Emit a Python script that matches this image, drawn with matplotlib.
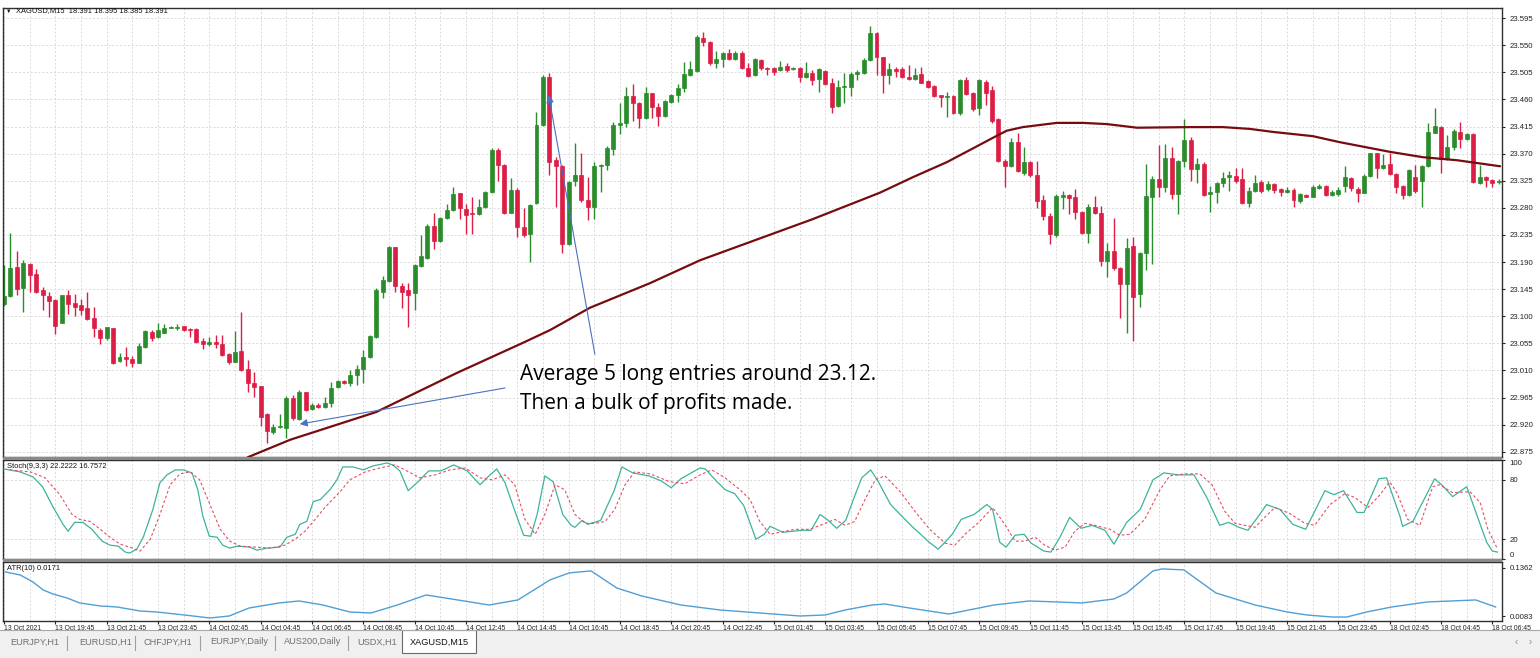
#XAGUSD M15 chart with Stochastic and ATR panels (MT4 style)
import numpy as np
import matplotlib.pyplot as plt
from matplotlib.patches import Rectangle
from matplotlib.lines import Line2D

plt.rcParams['font.family'] = ['Liberation Sans', 'DejaVu Sans']

# ---- candle data (M15 bars) ----
opens = [23.120, 23.134, 23.182, 23.147, 23.187, 23.170, 23.144, 23.134, 23.127, 23.089,
         23.135, 23.122, 23.119, 23.114, 23.097, 23.077, 23.064, 23.081, 23.026, 23.032,
         23.029, 23.022, 23.049, 23.074, 23.066, 23.072, 23.081, 23.081, 23.084, 23.079,
         23.079, 23.059, 23.054, 23.057, 23.054, 23.037, 23.024, 23.042, 23.012, 22.989,
         22.984, 22.938, 22.908, 22.916, 22.915, 22.964, 22.929, 22.974, 22.946, 22.953,
         22.949, 22.956, 22.983, 22.993, 22.989, 23.003, 23.012, 23.032, 23.066, 23.140,
         23.159, 23.215, 23.150, 23.144, 23.139, 23.184, 23.197, 23.250, 23.225, 23.263,
         23.276, 23.305, 23.278, 23.271, 23.270, 23.281, 23.306, 23.376, 23.351, 23.271,
         23.310, 23.248, 23.237, 23.288, 23.418, 23.497, 23.359, 23.349, 23.220, 23.325,
         23.335, 23.293, 23.281, 23.349, 23.351, 23.378, 23.418, 23.421, 23.466, 23.454,
         23.429, 23.471, 23.447, 23.432, 23.456, 23.467, 23.479, 23.501, 23.507, 23.562,
         23.555, 23.520, 23.527, 23.537, 23.527, 23.537, 23.512, 23.501, 23.525, 23.512,
         23.512, 23.509, 23.515, 23.510, 23.512, 23.497, 23.504, 23.494, 23.507, 23.487,
         23.449, 23.481, 23.481, 23.502, 23.504, 23.525, 23.570, 23.530, 23.501, 23.510,
         23.510, 23.497, 23.494, 23.502, 23.491, 23.482, 23.467, 23.464, 23.466, 23.437,
         23.492, 23.471, 23.446, 23.489, 23.476, 23.427, 23.358, 23.349, 23.389, 23.338,
         23.356, 23.335, 23.293, 23.266, 23.235, 23.298, 23.301, 23.298, 23.273, 23.238,
         23.281, 23.271, 23.192, 23.208, 23.180, 23.154, 23.217, 23.137, 23.205, 23.298,
         23.328, 23.315, 23.363, 23.303, 23.358, 23.393, 23.344, 23.353, 23.303, 23.306,
         23.321, 23.331, 23.333, 23.328, 23.288, 23.308, 23.323, 23.311, 23.320, 23.311,
         23.306, 23.310, 23.291, 23.301, 23.298, 23.313, 23.316, 23.301, 23.303, 23.316,
         23.330, 23.311, 23.305, 23.333, 23.371, 23.346, 23.353, 23.336, 23.316, 23.301,
         23.331, 23.325, 23.349, 23.404, 23.414, 23.361, 23.381, 23.406, 23.394, 23.403,
         23.321, 23.331, 23.326, 23.323]
closes = [23.134, 23.180, 23.145, 23.188, 23.169, 23.140, 23.135, 23.125, 23.084, 23.135,
          23.120, 23.115, 23.110, 23.095, 23.081, 23.064, 23.082, 23.022, 23.032, 23.029,
          23.022, 23.051, 23.076, 23.064, 23.077, 23.081, 23.082, 23.082, 23.077, 23.077,
          23.057, 23.054, 23.057, 23.054, 23.036, 23.024, 23.041, 23.011, 22.989, 22.983,
          22.933, 22.910, 22.916, 22.918, 22.964, 22.931, 22.974, 22.944, 22.953, 22.949,
          22.956, 22.981, 22.993, 22.989, 23.003, 23.012, 23.032, 23.067, 23.144, 23.160,
          23.215, 23.150, 23.140, 23.135, 23.185, 23.200, 23.250, 23.225, 23.263, 23.276,
          23.303, 23.280, 23.268, 23.270, 23.281, 23.306, 23.376, 23.351, 23.271, 23.310,
          23.248, 23.235, 23.285, 23.418, 23.497, 23.356, 23.349, 23.220, 23.323, 23.335,
          23.293, 23.281, 23.349, 23.351, 23.379, 23.418, 23.421, 23.466, 23.454, 23.429,
          23.471, 23.447, 23.432, 23.457, 23.467, 23.479, 23.502, 23.510, 23.564, 23.555,
          23.520, 23.527, 23.537, 23.527, 23.537, 23.512, 23.499, 23.527, 23.512, 23.510,
          23.505, 23.514, 23.509, 23.512, 23.497, 23.504, 23.492, 23.510, 23.486, 23.447,
          23.481, 23.482, 23.502, 23.505, 23.525, 23.570, 23.530, 23.501, 23.510, 23.507,
          23.497, 23.494, 23.501, 23.487, 23.481, 23.466, 23.464, 23.466, 23.437, 23.492,
          23.469, 23.444, 23.492, 23.471, 23.424, 23.358, 23.349, 23.389, 23.341, 23.356,
          23.335, 23.291, 23.266, 23.237, 23.300, 23.301, 23.296, 23.273, 23.238, 23.281,
          23.271, 23.192, 23.208, 23.180, 23.154, 23.213, 23.132, 23.205, 23.300, 23.328,
          23.315, 23.363, 23.303, 23.358, 23.393, 23.344, 23.353, 23.301, 23.306, 23.321,
          23.330, 23.335, 23.325, 23.288, 23.308, 23.321, 23.308, 23.320, 23.310, 23.306,
          23.310, 23.293, 23.303, 23.298, 23.315, 23.316, 23.301, 23.306, 23.310, 23.331,
          23.313, 23.305, 23.333, 23.371, 23.346, 23.351, 23.336, 23.315, 23.301, 23.343,
          23.308, 23.349, 23.406, 23.416, 23.361, 23.381, 23.408, 23.394, 23.403, 23.323,
          23.331, 23.326, 23.321, 23.325]
highs = [23.185, 23.238, 23.208, 23.193, 23.188, 23.178, 23.149, 23.140, 23.129, 23.135,
         23.144, 23.137, 23.129, 23.140, 23.115, 23.081, 23.082, 23.081, 23.039, 23.049,
         23.034, 23.056, 23.077, 23.077, 23.089, 23.087, 23.084, 23.087, 23.084, 23.081,
         23.081, 23.064, 23.066, 23.069, 23.069, 23.039, 23.076, 23.107, 23.027, 23.007,
         22.984, 22.939, 22.921, 22.938, 22.968, 22.969, 22.978, 22.974, 22.956, 22.956,
         22.966, 22.991, 22.994, 22.994, 23.011, 23.019, 23.044, 23.069, 23.147, 23.167,
         23.217, 23.215, 23.155, 23.155, 23.187, 23.235, 23.253, 23.271, 23.265, 23.286,
         23.315, 23.305, 23.286, 23.298, 23.295, 23.308, 23.379, 23.379, 23.353, 23.330,
         23.313, 23.280, 23.286, 23.439, 23.501, 23.504, 23.364, 23.351, 23.325, 23.388,
         23.371, 23.331, 23.356, 23.353, 23.383, 23.422, 23.454, 23.481, 23.486, 23.456,
         23.481, 23.471, 23.454, 23.459, 23.469, 23.486, 23.522, 23.524, 23.567, 23.572,
         23.557, 23.540, 23.539, 23.544, 23.540, 23.540, 23.520, 23.529, 23.527, 23.514,
         23.514, 23.524, 23.520, 23.514, 23.514, 23.522, 23.509, 23.512, 23.509, 23.496,
         23.492, 23.504, 23.505, 23.509, 23.529, 23.582, 23.572, 23.530, 23.520, 23.514,
         23.514, 23.517, 23.512, 23.514, 23.492, 23.484, 23.467, 23.472, 23.467, 23.494,
         23.497, 23.472, 23.494, 23.492, 23.482, 23.429, 23.361, 23.396, 23.404, 23.381,
         23.358, 23.358, 23.301, 23.271, 23.303, 23.308, 23.303, 23.311, 23.275, 23.286,
         23.300, 23.283, 23.222, 23.263, 23.182, 23.230, 23.232, 23.207, 23.353, 23.333,
         23.384, 23.386, 23.381, 23.359, 23.427, 23.398, 23.363, 23.356, 23.316, 23.323,
         23.340, 23.341, 23.346, 23.346, 23.315, 23.335, 23.326, 23.325, 23.321, 23.313,
         23.315, 23.313, 23.305, 23.303, 23.318, 23.320, 23.318, 23.310, 23.315, 23.349,
         23.331, 23.315, 23.336, 23.371, 23.371, 23.369, 23.371, 23.338, 23.318, 23.344,
         23.351, 23.351, 23.421, 23.446, 23.416, 23.401, 23.411, 23.422, 23.404, 23.404,
         23.351, 23.333, 23.328, 23.328]
lows = [23.117, 23.132, 23.135, 23.107, 23.140, 23.139, 23.110, 23.099, 23.071, 23.089,
        23.104, 23.100, 23.102, 23.094, 23.066, 23.054, 23.061, 23.021, 23.024, 23.017,
        23.016, 23.022, 23.047, 23.059, 23.064, 23.072, 23.081, 23.077, 23.076, 23.066,
        23.056, 23.046, 23.051, 23.047, 23.034, 23.021, 23.024, 23.009, 22.974, 22.966,
        22.918, 22.890, 22.905, 22.915, 22.898, 22.928, 22.928, 22.943, 22.944, 22.948,
        22.948, 22.949, 22.981, 22.988, 22.984, 22.986, 22.989, 23.031, 23.064, 23.130,
        23.157, 23.140, 23.114, 23.082, 23.110, 23.182, 23.195, 23.212, 23.223, 23.261,
        23.275, 23.261, 23.237, 23.237, 23.268, 23.280, 23.305, 23.325, 23.270, 23.271,
        23.232, 23.232, 23.190, 23.286, 23.416, 23.335, 23.281, 23.205, 23.218, 23.316,
        23.290, 23.260, 23.261, 23.306, 23.343, 23.368, 23.403, 23.414, 23.424, 23.413,
        23.427, 23.429, 23.416, 23.431, 23.454, 23.456, 23.472, 23.499, 23.505, 23.549,
        23.517, 23.512, 23.514, 23.525, 23.525, 23.510, 23.497, 23.499, 23.509, 23.501,
        23.501, 23.507, 23.505, 23.509, 23.489, 23.496, 23.484, 23.472, 23.484, 23.437,
        23.447, 23.454, 23.466, 23.492, 23.502, 23.524, 23.501, 23.471, 23.486, 23.497,
        23.496, 23.492, 23.492, 23.487, 23.479, 23.464, 23.447, 23.431, 23.436, 23.434,
        23.467, 23.441, 23.434, 23.451, 23.421, 23.356, 23.315, 23.348, 23.339, 23.335,
        23.331, 23.280, 23.260, 23.220, 23.232, 23.278, 23.270, 23.261, 23.237, 23.222,
        23.270, 23.183, 23.165, 23.177, 23.097, 23.072, 23.059, 23.115, 23.177, 23.187,
        23.298, 23.306, 23.295, 23.270, 23.348, 23.325, 23.321, 23.300, 23.273, 23.288,
        23.315, 23.308, 23.321, 23.286, 23.281, 23.306, 23.305, 23.308, 23.305, 23.300,
        23.305, 23.281, 23.288, 23.298, 23.298, 23.311, 23.300, 23.300, 23.300, 23.306,
        23.308, 23.290, 23.305, 23.331, 23.330, 23.344, 23.335, 23.305, 23.295, 23.300,
        23.305, 23.281, 23.348, 23.404, 23.338, 23.359, 23.376, 23.379, 23.393, 23.321,
        23.320, 23.315, 23.315, 23.320]

# moving average (bar index, price)
ma_bar = [38, 44.6, 58, 70.6, 80.9, 85.1, 91.3, 100.7, 108.5, 126, 136.5, 141.7, 147, 155,
          156.3, 158.8, 164.1, 168.2, 171.9, 176.6, 184.9, 190, 194.2, 197.8, 204, 208.2,
          216, 221.2, 226.5, 233.2]
ma_val = [22.866, 22.895, 22.941, 23.006, 23.056, 23.077, 23.114, 23.155, 23.193, 23.261,
          23.305, 23.331, 23.356, 23.401, 23.408, 23.414, 23.421, 23.421, 23.419, 23.413,
          23.414, 23.414, 23.411, 23.406, 23.399, 23.389, 23.373, 23.364, 23.359, 23.349]

# stochastic %K
k_bar = [0, 2.5, 4.5, 6, 7.6, 9.2, 10, 11, 12.3, 13.7, 15.3, 16.5, 17.8, 18.9, 19.6, 20.7,
         21.7, 23.2, 24.3, 25.4, 26.7, 27.9, 29.3, 30.2, 31, 32, 33.2, 34.1, 35.2, 36.3,
         38.3, 39.4, 41, 43, 44.1, 45.4, 46.1, 47.2, 48.2, 49.3, 50.8, 51.9, 52.8, 54.4,
         56, 57.5, 59.7, 60.6, 61.7, 63, 64.7, 66.2, 68.1, 70.1, 72.2, 74.2, 75.6, 76.8,
         78.1, 79.6, 81, 82.1, 83.1, 84.3, 85.6, 87.1, 88.4, 89, 90.1, 91, 93, 95.1, 96.3,
         98, 100.5, 102.4, 104, 105.5, 108.5, 109.3, 111, 112.4, 113.9, 115.3, 117.2,
         118.5, 119.4, 121.4, 124.4, 125.8, 127.2, 128.3, 129.8, 131.2, 132.5, 133.7,
         135.1, 136.2, 138.2, 141.2, 144.2, 145.6, 146.4, 147.8, 149.2, 151.2, 153.2,
         154.1, 155.2, 156.2, 157.6, 159, 160.1, 162.1, 163.2, 164.6, 166.1, 167.9, 169.6,
         171.6, 173, 175, 177.1, 179.1, 180.8, 183, 185.5, 187.5, 189.5, 190.9, 192.5,
         193.9, 195.4, 196.8, 198.9, 200.9, 202.9, 205.9, 207.3, 208.8, 210.9, 212, 214.3,
         215.5, 217.6, 218, 219.6, 223, 224.1, 225.8, 228, 231.1, 232, 232.8]
k_val = [91, 88, 83, 73, 53, 35, 28, 37, 37, 30, 18, 14, 13, 7, 6, 10, 22, 50, 77, 85,
         90, 90, 87, 70, 43, 23, 22, 14, 11, 13, 12, 9, 11, 12, 22, 25, 35, 38, 58, 60,
         70, 80, 93, 93, 90, 94, 97, 95, 89, 69, 79, 89, 89, 95, 89, 75, 84, 91, 77, 49,
         24, 23, 45, 84, 78, 45, 34, 32, 39, 35, 39, 69, 93, 87, 84, 79, 72, 81, 92, 91,
         79, 70, 66, 54, 20, 25, 33, 27, 29, 29, 45, 40, 31, 39, 62, 82, 90, 79, 55, 35,
         17, 10, 15, 25, 40, 45, 55, 50, 17, 12, 24, 25, 16, 8, 7, 22, 42, 31, 34, 29,
         15, 37, 50, 80, 87, 85, 85, 62, 34, 37, 32, 29, 42, 55, 50, 35, 30, 69, 65, 69,
         47, 47, 81, 82, 43, 33, 38, 81, 75, 63, 73, 17, 8, 7]

# stochastic %D (signal)
d_bar = [0.9, 4.1, 6.4, 8.7, 10.6, 11.8, 13.4, 15, 16.5, 18.1, 19.6, 21.2, 22.8, 24.3,
         25.9, 27.4, 29, 30.5, 32.1, 33.7, 35.2, 36.8, 39.1, 41.5, 43.8, 45.4, 46.9, 48.5,
         50, 52.4, 53.9, 56.3, 58.6, 60.9, 62.5, 64.8, 67.2, 69.5, 71.9, 74.2, 76.1, 78.1,
         79.6, 81.2, 82.8, 84.3, 85.9, 87.4, 89, 90.6, 92.1, 93.7, 95.2, 96.8, 98.3, 100.7,
         103.8, 106.1, 108.5, 110.3, 112.4, 114.7, 116.3, 117.8, 119.4, 120.9, 123.3, 125.6,
         128, 129.5, 131.1, 132.6, 134.2, 135.8, 137.3, 139.7, 142, 144.3, 146.7, 148.2,
         149.8, 152.1, 154.1, 156, 157.6, 159.1, 160.7, 162.2, 163.8, 165.4, 166.9, 168.5,
         170, 172.4, 173.9, 175.5, 177.8, 180.2, 181.7, 184.1, 186.4, 188.3, 190.3, 191.9,
         193.4, 195, 196.5, 198.1, 200.4, 202.8, 204.3, 206.7, 209, 210.6, 212.6, 214.5,
         216, 217.1, 218.8, 220.7, 222.7, 223.8, 225.8, 228.5, 230.1, 231.3, 232.8]
d_val = [90, 88, 82, 65, 45, 40, 38, 30, 22, 15, 12, 8, 20, 45, 75, 86, 88, 80, 55, 30,
         18, 13, 12, 11, 14, 20, 28, 40, 52, 68, 80, 88, 92, 95, 90, 82, 85, 90, 92, 82,
         80, 85, 75, 40, 25, 45, 75, 70, 45, 36, 36, 38, 50, 75, 88, 86, 78, 76, 85, 90,
         82, 70, 60, 38, 25, 27, 30, 30, 36, 40, 34, 38, 60, 80, 84, 68, 48, 30, 16, 14,
         25, 38, 52, 35, 18, 18, 22, 14, 9, 12, 28, 36, 34, 30, 24, 25, 40, 70, 84, 86,
         86, 75, 48, 36, 34, 32, 42, 52, 46, 36, 34, 55, 66, 62, 52, 65, 78, 67, 40, 34,
         73, 75, 67, 68, 57, 30, 10]

# ATR(10)
atr_bar = [0.2, 2.5, 4.5, 6.1, 7.6, 9.8, 11.8, 15, 17.6, 21.2, 23.8, 28.1, 32.1, 35.1, 38.2,
           42.9, 46, 49.7, 53.9, 57.2, 61.3, 65.8, 71.7, 75.6, 80.1, 85.1, 88.1, 91.5, 95.5,
           99.4, 105.5, 111.6, 117.8, 124.1, 128, 131.1, 135.3, 137.3, 141.1, 147.3, 150.4,
           154.3, 159.8, 164.3, 168, 173, 175, 179.1, 180.5, 183.9, 188.9, 195, 200, 203.1,
           207, 209.3, 212.4, 216.3, 221.8, 229.4, 232.5]
atr_val = [0.1256, 0.1176, 0.0990, 0.0776, 0.0670, 0.0563, 0.0430, 0.0350, 0.0323, 0.0216,
           0.0190, 0.0110, 0.0030, 0.0083, 0.0296, 0.0430, 0.0483, 0.0376, 0.0190, 0.0163,
           0.0376, 0.0643, 0.0483, 0.0376, 0.0510, 0.1043, 0.1230, 0.1283, 0.0830, 0.0616,
           0.0376, 0.0243, 0.0163, 0.0083, 0.0110, 0.0243, 0.0376, 0.0403, 0.0296, 0.0136,
           0.0243, 0.0376, 0.0483, 0.0456, 0.0430, 0.0536, 0.0696, 0.1283, 0.1336, 0.1310,
           0.0696, 0.0376, 0.0190, 0.0110, 0.0056, 0.0056, 0.0190, 0.0323, 0.0456, 0.0510,
           0.0323]

price_ticks = [22.875, 22.920, 22.965, 23.010, 23.055, 23.100, 23.145, 23.190, 23.235,
               23.280, 23.325, 23.370, 23.415, 23.460, 23.505, 23.550, 23.595]
time_labels = ['13 Oct 2021', '13 Oct 19:45', '13 Oct 21:45', '13 Oct 23:45', '14 Oct 02:45',
               '14 Oct 04:45', '14 Oct 06:45', '14 Oct 08:45', '14 Oct 10:45', '14 Oct 12:45',
               '14 Oct 14:45', '14 Oct 16:45', '14 Oct 18:45', '14 Oct 20:45', '14 Oct 22:45',
               '15 Oct 01:45', '15 Oct 03:45', '15 Oct 05:45', '15 Oct 07:45', '15 Oct 09:45',
               '15 Oct 11:45', '15 Oct 13:45', '15 Oct 15:45', '15 Oct 17:45', '15 Oct 19:45',
               '15 Oct 21:45', '15 Oct 23:45', '18 Oct 02:45', '18 Oct 04:45', '18 Oct 06:45']
tabs = ['EURJPY,H1', 'EURUSD,H1', 'CHFJPY,H1', 'EURJPY,Daily', 'AUS200,Daily', 'USDX,H1', 'XAGUSD,M15']

# ---- figure layout (pixel based) ----
W, H = 1540, 658
fig = plt.figure(figsize=(W / 100, H / 100), dpi=100)
fig.patch.set_facecolor('white')

def fx(px):
    return px / W

def fy(py):
    return 1 - py / H

def panel(top, bottom):
    return [fx(3), fy(bottom), fx(1502) - fx(3), (bottom - top) / H]

ax = fig.add_axes(panel(8, 457))
ax_st = fig.add_axes(panel(460, 559), sharex=ax)
ax_atr = fig.add_axes(panel(562, 621), sharex=ax)

# gray separators between panels
for top, bottom in [(457, 460), (559, 562)]:
    fig.patches.append(Rectangle((fx(3), fy(bottom)), fx(1502) - fx(3), (bottom - top) / H,
                                 transform=fig.transFigure, facecolor='#8a8a8a',
                                 edgecolor='none', zorder=0))

grid_kw = dict(color='#dadada', linestyle=(0, (2, 2)), linewidth=0.7)
n = len(opens)
x = np.arange(n)
o = np.array(opens)
c = np.array(closes)
hi = np.maximum(np.array(highs), np.maximum(o, c))
lo = np.minimum(np.array(lows), np.minimum(o, c))
up = c >= o
green = '#2a8c2a'
red = '#dc1e46'
cols = np.where(up, green, red)

# candles
ax.vlines(x, lo, hi, colors=cols, linewidth=1, zorder=2)
body_lo = np.minimum(o, c)
body_h = np.maximum(np.abs(c - o), 0.0013)
ax.bar(x, body_h, bottom=body_lo, width=0.62, color=cols, edgecolor=cols,
       linewidth=0.5, zorder=2)

# moving average
ax.plot(ma_bar, ma_val, color='#760c10', linewidth=1.6, zorder=3, solid_capstyle='round')

ax.set_xlim(-0.16, 233.5)
ax.set_ylim(22.8664, 23.6117)
ax.set_yticks(price_ticks)
ax.set_yticklabels(['%.3f' % v for v in price_ticks])

# annotation
blue = '#4a72c0'
ax.annotate('', xy=(84.9, 23.467), xytext=(92.1, 23.037),
            arrowprops=dict(arrowstyle='-|>', color=blue, lw=0.8, mutation_scale=11,
                            shrinkA=0, shrinkB=0), zorder=4)
ax.annotate('', xy=(46.1, 22.921), xytext=(78.1, 22.981),
            arrowprops=dict(arrowstyle='-|>', color=blue, lw=0.8, mutation_scale=11,
                            shrinkA=0, shrinkB=0), zorder=4)
ax.text(80.4, 23.003, 'Average 5 long entries around 23.12.', fontsize=15,
        family='Open Sans', ha='left', va='center', color='black', zorder=5)
ax.text(80.4, 22.956, 'Then a bulk of profits made.', fontsize=15,
        family='Open Sans', ha='left', va='center', color='black', zorder=5)

# stochastic
ax_st.plot(k_bar, k_val, color='#3db39c', linewidth=0.9, zorder=3)
ax_st.plot(d_bar, d_val, color='#e5505e', linewidth=0.8, linestyle=(0, (2.5, 2)), zorder=3)
ax_st.set_ylim(0, 100)
ax_st.set_yticks([0, 20, 80, 100])
ax_st.set_yticklabels(['0', '20', '80', '100'])

# ATR
ax_atr.plot(atr_bar, atr_val, color='#4f9fd6', linewidth=1.0, zorder=3)
ax_atr.set_ylim(-0.005, 0.152)
ax_atr.set_yticks([0.0083, 0.1362])
ax_atr.set_yticklabels(['0.0083', '0.1362'])

# shared x ticks: labels every 8 bars, grid every 4 bars
ax_atr.set_xticks(np.arange(0, n, 8))
ax_atr.set_xticks(np.arange(4, n, 8), minor=True)
ax_atr.set_xticklabels(time_labels, ha='left')

for a in (ax, ax_st, ax_atr):
    a.yaxis.tick_right()
    a.tick_params(axis='y', which='both', labelsize=5.6, length=2.5, pad=3,
                  colors='#222222', direction='out')
    a.grid(True, axis='x', which='both', **grid_kw)
    a.set_axisbelow(True)
    for s in a.spines.values():
        s.set_color('#303030')
        s.set_linewidth(1)
for a in (ax, ax_st):
    a.tick_params(axis='x', which='both', labelbottom=False, length=0)
ax_atr.tick_params(axis='x', which='major', labelsize=4.9, length=2, pad=0.8,
                   colors='#222222')
ax_atr.tick_params(axis='x', which='minor', length=0)
ax.grid(True, axis='y', **grid_kw)
ax_st.grid(True, axis='y', **grid_kw)
ax_atr.grid(False, axis='y')

st_labels = ax_st.get_yticklabels()
st_labels[0].set_va('bottom')
st_labels[-1].set_va('top')

# panel captions
fig.text(fx(6), fy(11), '\u25bc', fontsize=4, va='center', ha='left', color='#111111')
fig.text(fx(16), fy(11), 'XAGUSD,M15  18.391 18.395 18.385 18.391', fontsize=5.4,
         va='center', ha='left', color='#111111')
fig.text(fx(7), fy(466), 'Stoch(9,3,3) 22.2222 16.7572', fontsize=5.4,
         va='center', ha='left', color='#111111')
fig.text(fx(7), fy(569), 'ATR(10) 0.0171', fontsize=5.4,
         va='center', ha='left', color='#111111')

# ---- bottom tab strip ----
fig.patches.append(Rectangle((0, 0), 1, fy(630), transform=fig.transFigure,
                             facecolor='#f0f0f0', edgecolor='none', zorder=0))
fig.lines.append(Line2D([0, 1], [fy(630), fy(630)], transform=fig.transFigure,
                        color='#a8a8a8', linewidth=0.8))
fig.patches.append(Rectangle((fx(402), fy(653)), fx(476) - fx(402), (653 - 630) / H,
                             transform=fig.transFigure, facecolor='white',
                             edgecolor='#6a6a6a', linewidth=0.8, zorder=1))
tab_x = [10, 79, 144, 210, 284, 357, 410]
sep_x = [67, 135, 200, 275, 348]
for name, px in zip(tabs, tab_x):
    active = name == tabs[-1]
    fig.text(fx(px), fy(642), name, fontsize=6.6, va='center', ha='left',
             color='#111111' if active else '#707070', zorder=2)
for px in sep_x:
    fig.lines.append(Line2D([fx(px), fx(px)], [fy(636), fy(650)], transform=fig.transFigure,
                            color='#a0a0a0', linewidth=0.8))
fig.text(fx(1516), fy(642), '\u2039', fontsize=7, va='center', ha='center', color='#909090')
fig.text(fx(1530), fy(642), '\u203a', fontsize=7, va='center', ha='center', color='#909090')

fig.savefig('out.png', dpi=100)
